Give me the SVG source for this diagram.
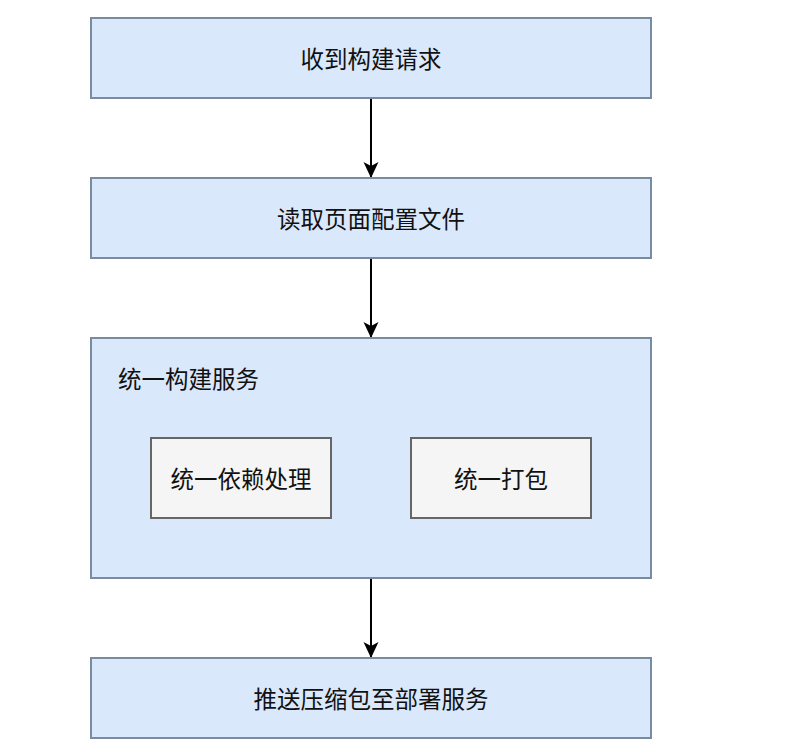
<svg xmlns="http://www.w3.org/2000/svg" width="792" height="751" viewBox="0 0 792 751">
<style>
.b{fill:#dae8fc;stroke:#7a8aa0;stroke-width:2}
.g{fill:#f5f5f5;stroke:#666666;stroke-width:2}
text{font-family:"Noto Sans CJK SC","Noto Sans",sans-serif;font-size:23.5px;fill:#111}
.c{text-anchor:middle;dominant-baseline:central}
.e{stroke:#000;stroke-width:2;fill:none}
</style>
<defs>
<marker id="ah" markerWidth="16" markerHeight="16" refX="15" refY="8" orient="auto" markerUnits="userSpaceOnUse" viewBox="0 0 16 16">
<path d="M0,0.5 L16,8 L0,15.5 L4,8 Z" fill="#000"/>
</marker>
</defs>
<rect width="792" height="751" fill="#fff"/>
<g id="connectors">
<path class="e" d="M371,98 V177" marker-end="url(#ah)"/>
<path class="e" d="M371,258 V337" marker-end="url(#ah)"/>
<path class="e" d="M371,578 V657" marker-end="url(#ah)"/>
</g>
<g id="n1"><rect class="b" x="91" y="18" width="560" height="80"/><text class="c" x="371" y="58">收到构建请求</text></g>
<g id="n2"><rect class="b" x="91" y="178" width="560" height="80"/><text class="c" x="371" y="218">读取页面配置文件</text></g>
<g id="n3"><rect class="b" x="91" y="338" width="560" height="240"/><text x="118" y="388">统一构建服务</text></g>
<g id="n4"><rect class="g" x="151" y="438" width="180" height="80"/><text class="c" x="241" y="478">统一依赖处理</text></g>
<g id="n5"><rect class="g" x="411" y="438" width="180" height="80"/><text class="c" x="501" y="478">统一打包</text></g>
<g id="n6"><rect class="b" x="91" y="658" width="560" height="80"/><text class="c" x="371" y="698">推送压缩包至部署服务</text></g>
</svg>
